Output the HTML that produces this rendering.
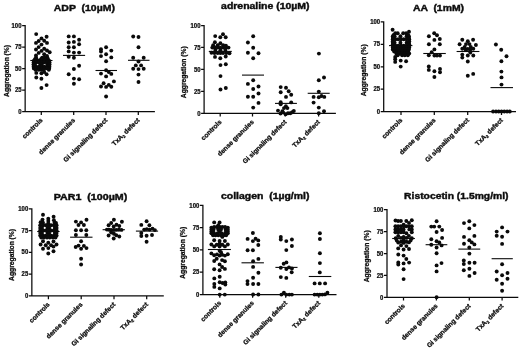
<!DOCTYPE html>
<html><head><meta charset="utf-8"><title>Aggregation</title>
<style>
html,body{margin:0;padding:0;background:#fff;}
body{width:520px;height:349px;overflow:hidden;}
svg{display:block;will-change:transform;filter:grayscale(1);}
text{font-family:"Liberation Sans",sans-serif;font-weight:bold;fill:#0d0d0d;stroke:#0d0d0d;stroke-width:0.18px;}
.t{font-size:9.3px;stroke-width:0.42px;}
.yl{font-size:7.4px;stroke-width:0.28px;}
.tk{font-size:6.4px;stroke-width:0.25px;}
.xl{font-size:6.6px;stroke-width:0.28px;}
.ax{stroke:#0a0a0a;stroke-width:1.25;fill:none;}
.m{stroke:#0a0a0a;stroke-width:1.1;}
circle{fill:#0a0a0a;}
</style></head><body>
<svg width="520" height="349" viewBox="0 0 520 349">
<rect width="520" height="349" fill="#fff"/>
<g id="p1">
<text class="t" x="53.8" y="11.0" textLength="61.1" lengthAdjust="spacingAndGlyphs" xml:space="preserve">ADP  (10µM)</text>
<path class="ax" d="M25.15 25.10V111.7H154.9M22.15 111.70H25.15M22.15 90.20H25.15M22.15 68.70H25.15M22.15 47.20H25.15M22.15 25.70H25.15M41.3 111.7V114.9M73.7 111.7V114.9M106 111.7V114.9M138.3 111.7V114.9"/>
<text class="tk" transform="translate(21.5 113.8) scale(0.93 1)" text-anchor="end">0</text>
<text class="tk" transform="translate(21.5 92.3) scale(0.93 1)" text-anchor="end">25</text>
<text class="tk" transform="translate(21.5 70.8) scale(0.93 1)" text-anchor="end">50</text>
<text class="tk" transform="translate(21.5 49.3) scale(0.93 1)" text-anchor="end">75</text>
<text class="tk" transform="translate(21.5 27.8) scale(0.93 1)" text-anchor="end">100</text>
<text class="yl" transform="translate(8.8 70.9) rotate(-90)" text-anchor="middle" textLength="52" lengthAdjust="spacingAndGlyphs">Aggregation (%)</text>
<text class="xl" transform="translate(43.1 120.7) rotate(-45)" text-anchor="end">controls</text>
<text class="xl" transform="translate(75.5 120.7) rotate(-45)" text-anchor="end">dense granules</text>
<text class="xl" transform="translate(107.8 120.7) rotate(-45)" text-anchor="end">Gi signaling defect</text>
<text class="xl" transform="translate(140.1 120.7) rotate(-45)" text-anchor="end">TxA<tspan dy="1.3" font-size="4.2">2</tspan><tspan dy="-1.3"> defect</tspan></text>
<line class="m" x1="30.3" x2="52.5" y1="60.5" y2="60.5"/>
<line class="m" x1="63" x2="85.1" y1="55.4" y2="55.4"/>
<line class="m" x1="95.5" x2="117" y1="70.5" y2="70.5"/>
<line class="m" x1="128" x2="149.5" y1="60.3" y2="60.3"/>
<circle cx="36.2" cy="34.1" r="1.95"/><circle cx="46.6" cy="36.8" r="1.95"/><circle cx="41.5" cy="38.4" r="1.95"/><circle cx="38.7" cy="41.0" r="1.95"/><circle cx="44.2" cy="40.8" r="1.95"/><circle cx="36.0" cy="42.9" r="1.95"/><circle cx="47.0" cy="42.9" r="1.95"/><circle cx="41.5" cy="44.6" r="1.95"/><circle cx="38.7" cy="47.1" r="1.95"/><circle cx="36.0" cy="49.5" r="1.95"/><circle cx="44.2" cy="48.8" r="1.95"/><circle cx="47.0" cy="50.5" r="1.95"/><circle cx="49.7" cy="52.3" r="1.95"/><circle cx="41.5" cy="50.9" r="1.95"/><circle cx="38.7" cy="52.9" r="1.95"/><circle cx="44.2" cy="54.3" r="1.95"/><circle cx="36.0" cy="55.4" r="1.95"/><circle cx="47.0" cy="56.0" r="1.95"/><circle cx="36.04" cy="57.6" r="1.95"/><circle cx="42.18" cy="57.6" r="1.95"/><circle cx="44.5" cy="57.6" r="1.95"/><circle cx="47.23" cy="57.6" r="1.95"/><circle cx="34.95" cy="59.2" r="1.95"/><circle cx="36.59" cy="59.2" r="1.95"/><circle cx="40.95" cy="59.2" r="1.95"/><circle cx="42.32" cy="59.2" r="1.95"/><circle cx="46.55" cy="59.2" r="1.95"/><circle cx="48.05" cy="59.2" r="1.95"/><circle cx="33.86" cy="60.7" r="1.95"/><circle cx="36.04" cy="60.7" r="1.95"/><circle cx="38.77" cy="60.7" r="1.95"/><circle cx="41.5" cy="60.7" r="1.95"/><circle cx="44.23" cy="60.7" r="1.95"/><circle cx="46.96" cy="60.7" r="1.95"/><circle cx="49.14" cy="60.7" r="1.95"/><circle cx="33.58" cy="62.4" r="1.95"/><circle cx="36.04" cy="62.4" r="1.95"/><circle cx="38.77" cy="62.4" r="1.95"/><circle cx="41.5" cy="62.4" r="1.95"/><circle cx="44.23" cy="62.4" r="1.95"/><circle cx="46.96" cy="62.4" r="1.95"/><circle cx="49.55" cy="62.4" r="1.95"/><circle cx="33.45" cy="64.6" r="1.95"/><circle cx="34.95" cy="64.6" r="1.95"/><circle cx="40.41" cy="64.6" r="1.95"/><circle cx="41.77" cy="64.6" r="1.95"/><circle cx="47.37" cy="64.6" r="1.95"/><circle cx="49.55" cy="64.6" r="1.95"/><circle cx="33.58" cy="66.7" r="1.95"/><circle cx="36.04" cy="66.7" r="1.95"/><circle cx="38.77" cy="66.7" r="1.95"/><circle cx="41.5" cy="66.7" r="1.95"/><circle cx="44.23" cy="66.7" r="1.95"/><circle cx="46.96" cy="66.7" r="1.95"/><circle cx="49.42" cy="66.7" r="1.95"/><circle cx="33.86" cy="68.4" r="1.95"/><circle cx="36.04" cy="68.4" r="1.95"/><circle cx="38.77" cy="68.4" r="1.95"/><circle cx="41.5" cy="68.4" r="1.95"/><circle cx="44.23" cy="68.4" r="1.95"/><circle cx="46.96" cy="68.4" r="1.95"/><circle cx="49.14" cy="68.4" r="1.95"/><circle cx="35.49" cy="69.8" r="1.95"/><circle cx="38.77" cy="69.8" r="1.95"/><circle cx="41.5" cy="69.8" r="1.95"/><circle cx="43.68" cy="69.8" r="1.95"/><circle cx="48.87" cy="69.8" r="1.95"/><circle cx="36.3" cy="72.9" r="1.95"/><circle cx="41.4" cy="73.2" r="1.95"/><circle cx="44.2" cy="72.0" r="1.95"/><circle cx="46.6" cy="74.3" r="1.95"/><circle cx="36.3" cy="77.5" r="1.95"/><circle cx="41.4" cy="78.7" r="1.95"/><circle cx="46.6" cy="85.1" r="1.95"/><circle cx="41.4" cy="88.0" r="1.95"/><circle cx="68.7" cy="36.4" r="1.95"/><circle cx="73.9" cy="36.4" r="1.95"/><circle cx="79.1" cy="39.7" r="1.95"/><circle cx="68.7" cy="42.5" r="1.95"/><circle cx="73.9" cy="41.9" r="1.95"/><circle cx="79.1" cy="44.3" r="1.95"/><circle cx="68.7" cy="47.3" r="1.95"/><circle cx="73.9" cy="47.3" r="1.95"/><circle cx="68.7" cy="51.4" r="1.95"/><circle cx="73.9" cy="52.6" r="1.95"/><circle cx="79.1" cy="52.6" r="1.95"/><circle cx="68.7" cy="56.8" r="1.95"/><circle cx="73.9" cy="57.8" r="1.95"/><circle cx="79.1" cy="65.8" r="1.95"/><circle cx="73.9" cy="69.0" r="1.95"/><circle cx="68.7" cy="74.3" r="1.95"/><circle cx="73.9" cy="78.6" r="1.95"/><circle cx="79.1" cy="79.3" r="1.95"/><circle cx="73.9" cy="83.7" r="1.95"/><circle cx="106.1" cy="47.2" r="1.95"/><circle cx="101" cy="49.2" r="1.95"/><circle cx="101" cy="51.5" r="1.95"/><circle cx="111.3" cy="50.6" r="1.95"/><circle cx="106.1" cy="54.2" r="1.95"/><circle cx="101" cy="56.1" r="1.95"/><circle cx="111.3" cy="57.4" r="1.95"/><circle cx="106.1" cy="61.3" r="1.95"/><circle cx="106.1" cy="70.2" r="1.95"/><circle cx="108.8" cy="72.1" r="1.95"/><circle cx="111.3" cy="73.9" r="1.95"/><circle cx="101" cy="73.6" r="1.95"/><circle cx="106.1" cy="76.4" r="1.95"/><circle cx="113.9" cy="81.4" r="1.95"/><circle cx="103.6" cy="83.3" r="1.95"/><circle cx="108.8" cy="84.9" r="1.95"/><circle cx="101" cy="86.5" r="1.95"/><circle cx="106.1" cy="86.9" r="1.95"/><circle cx="111.3" cy="86.8" r="1.95"/><circle cx="106.1" cy="96.5" r="1.95"/><circle cx="133.2" cy="36.5" r="1.95"/><circle cx="138.5" cy="37" r="1.95"/><circle cx="138.5" cy="47.3" r="1.95"/><circle cx="133.2" cy="57.8" r="1.95"/><circle cx="143.7" cy="57.8" r="1.95"/><circle cx="138.5" cy="61.5" r="1.95"/><circle cx="135.8" cy="65.4" r="1.95"/><circle cx="141.1" cy="65.4" r="1.95"/><circle cx="133.2" cy="68.8" r="1.95"/><circle cx="138.5" cy="69.1" r="1.95"/><circle cx="143.7" cy="68.8" r="1.95"/><circle cx="138.5" cy="74.6" r="1.95"/><circle cx="138.5" cy="82.0" r="1.95"/>
</g>
<g id="p2">
<text class="t" x="221.1" y="9.4" textLength="88.4" lengthAdjust="spacingAndGlyphs" xml:space="preserve">adrenaline (10µM)</text>
<path class="ax" d="M204.1 24.90V113.4H335.9M201.10 113.40H204.1M201.10 91.43H204.1M201.10 69.45H204.1M201.10 47.48H204.1M201.10 25.50H204.1M220.2 113.4V116.60000000000001M252.5 113.4V116.60000000000001M285.2 113.4V116.60000000000001M318.6 113.4V116.60000000000001"/>
<text class="tk" transform="translate(200.5 115.5) scale(0.93 1)" text-anchor="end">0</text>
<text class="tk" transform="translate(200.5 93.5) scale(0.93 1)" text-anchor="end">25</text>
<text class="tk" transform="translate(200.5 71.5) scale(0.93 1)" text-anchor="end">50</text>
<text class="tk" transform="translate(200.5 49.6) scale(0.93 1)" text-anchor="end">75</text>
<text class="tk" transform="translate(200.5 27.6) scale(0.93 1)" text-anchor="end">100</text>
<text class="yl" transform="translate(186.2 72.2) rotate(-90)" text-anchor="middle" textLength="52" lengthAdjust="spacingAndGlyphs">Aggregation (%)</text>
<text class="xl" transform="translate(222.0 122.4) rotate(-45)" text-anchor="end">controls</text>
<text class="xl" transform="translate(254.3 122.4) rotate(-45)" text-anchor="end">dense granules</text>
<text class="xl" transform="translate(287.0 122.4) rotate(-45)" text-anchor="end">Gi signaling defect</text>
<text class="xl" transform="translate(320.4 122.4) rotate(-45)" text-anchor="end">TxA<tspan dy="1.3" font-size="4.2">2</tspan><tspan dy="-1.3"> defect</tspan></text>
<line class="m" x1="208.8" x2="231.8" y1="51.4" y2="51.4"/>
<line class="m" x1="242" x2="264" y1="75.1" y2="75.1"/>
<line class="m" x1="275" x2="296.9" y1="103.4" y2="103.4"/>
<line class="m" x1="307.7" x2="329.7" y1="93.3" y2="93.3"/>
<circle cx="223" cy="34.3" r="1.95"/><circle cx="215.2" cy="36.1" r="1.95"/><circle cx="220.3" cy="37.3" r="1.95"/><circle cx="225.7" cy="37.3" r="1.95"/><circle cx="214.9" cy="42.3" r="1.95"/><circle cx="220.4" cy="43.2" r="1.95"/><circle cx="213.2" cy="45.2" r="1.95"/><circle cx="217.7" cy="45.2" r="1.95"/><circle cx="223.2" cy="45.2" r="1.95"/><circle cx="225.9" cy="45.6" r="1.95"/><circle cx="212.3" cy="47.6" r="1.95"/><circle cx="215" cy="47.6" r="1.95"/><circle cx="217.7" cy="47.6" r="1.95"/><circle cx="220.4" cy="47.6" r="1.95"/><circle cx="223.1" cy="47.6" r="1.95"/><circle cx="225.8" cy="47.6" r="1.95"/><circle cx="228.5" cy="47.6" r="1.95"/><circle cx="215.3" cy="50.0" r="1.95"/><circle cx="220.4" cy="50.2" r="1.95"/><circle cx="225.4" cy="50.0" r="1.95"/><circle cx="211.5" cy="52.7" r="1.95"/><circle cx="214.5" cy="53.1" r="1.95"/><circle cx="217.7" cy="53.1" r="1.95"/><circle cx="220.4" cy="53.1" r="1.95"/><circle cx="223.1" cy="53.1" r="1.95"/><circle cx="226.3" cy="53.1" r="1.95"/><circle cx="229.5" cy="53.3" r="1.95"/><circle cx="215.0" cy="56.9" r="1.95"/><circle cx="220.3" cy="58.3" r="1.95"/><circle cx="225.7" cy="56.5" r="1.95"/><circle cx="220.5" cy="65.1" r="1.95"/><circle cx="225.8" cy="64.3" r="1.95"/><circle cx="220.5" cy="76.1" r="1.95"/><circle cx="220.5" cy="89.5" r="1.95"/><circle cx="225.8" cy="88" r="1.95"/><circle cx="253.2" cy="36.3" r="1.95"/><circle cx="247.9" cy="42.5" r="1.95"/><circle cx="253.2" cy="47.8" r="1.95"/><circle cx="247.9" cy="52.8" r="1.95"/><circle cx="258.5" cy="53.3" r="1.95"/><circle cx="253.2" cy="58.3" r="1.95"/><circle cx="253.2" cy="80.3" r="1.95"/><circle cx="247.9" cy="83.9" r="1.95"/><circle cx="258.5" cy="86.5" r="1.95"/><circle cx="253.2" cy="89" r="1.95"/><circle cx="258.5" cy="93.5" r="1.95"/><circle cx="247.9" cy="96.8" r="1.95"/><circle cx="253.2" cy="96.8" r="1.95"/><circle cx="258.5" cy="102.9" r="1.95"/><circle cx="253.2" cy="107.6" r="1.95"/><circle cx="280.7" cy="87.1" r="1.95"/><circle cx="286" cy="87.8" r="1.95"/><circle cx="288.7" cy="91.2" r="1.95"/><circle cx="280.7" cy="92.2" r="1.95"/><circle cx="291.2" cy="94.7" r="1.95"/><circle cx="286" cy="96.9" r="1.95"/><circle cx="280.7" cy="102.2" r="1.95"/><circle cx="280.7" cy="104.3" r="1.95"/><circle cx="291.2" cy="102.4" r="1.95"/><circle cx="285.9" cy="106.2" r="1.95"/><circle cx="284" cy="108.1" r="1.95"/><circle cx="287.4" cy="108.1" r="1.95"/><circle cx="278" cy="110.6" r="1.95"/><circle cx="293.8" cy="110.9" r="1.95"/><circle cx="282.4" cy="111.2" r="1.95"/><circle cx="280.5" cy="113.6" r="1.95"/><circle cx="285.6" cy="114.3" r="1.95"/><circle cx="290.3" cy="113.3" r="1.95"/><circle cx="283" cy="112.4" r="1.95"/><circle cx="292.2" cy="112.2" r="1.95"/><circle cx="288" cy="113.3" r="1.95"/><circle cx="318.9" cy="53.6" r="1.95"/><circle cx="324" cy="77.5" r="1.95"/><circle cx="318.8" cy="80.3" r="1.95"/><circle cx="318.8" cy="91.6" r="1.95"/><circle cx="313.6" cy="96.9" r="1.95"/><circle cx="318.8" cy="97.3" r="1.95"/><circle cx="321.5" cy="96" r="1.95"/><circle cx="324.3" cy="96.9" r="1.95"/><circle cx="313.6" cy="102.6" r="1.95"/><circle cx="318.8" cy="107.6" r="1.95"/><circle cx="324" cy="111.2" r="1.95"/><circle cx="318.8" cy="113.3" r="1.95"/>
</g>
<g id="p3">
<text class="t" x="413.0" y="10.8" textLength="51" lengthAdjust="spacingAndGlyphs" xml:space="preserve">AA  (1mM)</text>
<path class="ax" d="M383.7 21.25V111.7H516M380.70 111.70H383.7M380.70 89.24H383.7M380.70 66.78H383.7M380.70 44.31H383.7M380.70 21.85H383.7M401.0 111.7V114.9M434.3 111.7V114.9M467.7 111.7V114.9M501.5 111.7V114.9"/>
<text class="tk" transform="translate(380.1 113.8) scale(0.93 1)" text-anchor="end">0</text>
<text class="tk" transform="translate(380.1 91.3) scale(0.93 1)" text-anchor="end">25</text>
<text class="tk" transform="translate(380.1 68.9) scale(0.93 1)" text-anchor="end">50</text>
<text class="tk" transform="translate(380.1 46.4) scale(0.93 1)" text-anchor="end">75</text>
<text class="tk" transform="translate(380.1 24.0) scale(0.93 1)" text-anchor="end">100</text>
<text class="yl" transform="translate(365.6 70.3) rotate(-90)" text-anchor="middle" textLength="52" lengthAdjust="spacingAndGlyphs">Aggregation (%)</text>
<text class="xl" transform="translate(402.8 120.7) rotate(-45)" text-anchor="end">controls</text>
<text class="xl" transform="translate(436.1 120.7) rotate(-45)" text-anchor="end">dense granules</text>
<text class="xl" transform="translate(469.5 120.7) rotate(-45)" text-anchor="end">Gi signaling defect</text>
<text class="xl" transform="translate(503.3 120.7) rotate(-45)" text-anchor="end">TxA<tspan dy="1.3" font-size="4.2">2</tspan><tspan dy="-1.3"> defect</tspan></text>
<line class="m" x1="389" x2="412.4" y1="45.6" y2="45.6"/>
<line class="m" x1="423.3" x2="445.8" y1="53.5" y2="53.5"/>
<line class="m" x1="456.6" x2="479.4" y1="51.5" y2="51.5"/>
<line class="m" x1="490.5" x2="513" y1="87.6" y2="87.6"/>
<circle cx="392.6" cy="29.8" r="1.95"/><circle cx="409" cy="31.8" r="1.95"/><circle cx="395.27" cy="33.3" r="1.95"/><circle cx="397.72" cy="33.3" r="1.95"/><circle cx="403.18" cy="33.3" r="1.95"/><circle cx="406.19" cy="33.3" r="1.95"/><circle cx="393.63" cy="35.0" r="1.95"/><circle cx="408.1" cy="35.0" r="1.95"/><circle cx="392.81" cy="36.3" r="1.95"/><circle cx="394.64" cy="36.3" r="1.95"/><circle cx="400.45" cy="36.3" r="1.95"/><circle cx="406.6" cy="36.3" r="1.95"/><circle cx="408.92" cy="36.3" r="1.95"/><circle cx="392.81" cy="38.0" r="1.95"/><circle cx="408.92" cy="38.0" r="1.95"/><circle cx="392.81" cy="39.3" r="1.95"/><circle cx="395.54" cy="39.3" r="1.95"/><circle cx="398.27" cy="39.3" r="1.95"/><circle cx="401.0" cy="39.3" r="1.95"/><circle cx="403.73" cy="39.3" r="1.95"/><circle cx="406.46" cy="39.3" r="1.95"/><circle cx="409.19" cy="39.3" r="1.95"/><circle cx="392.81" cy="41.2" r="1.95"/><circle cx="409.19" cy="41.2" r="1.95"/><circle cx="392.81" cy="42.7" r="1.95"/><circle cx="394.64" cy="42.7" r="1.95"/><circle cx="400.45" cy="42.7" r="1.95"/><circle cx="406.6" cy="42.7" r="1.95"/><circle cx="408.92" cy="42.7" r="1.95"/><circle cx="392.81" cy="44.2" r="1.95"/><circle cx="409.19" cy="44.2" r="1.95"/><circle cx="392.81" cy="45.6" r="1.95"/><circle cx="395.54" cy="45.6" r="1.95"/><circle cx="398.27" cy="45.6" r="1.95"/><circle cx="401.0" cy="45.6" r="1.95"/><circle cx="403.73" cy="45.6" r="1.95"/><circle cx="406.46" cy="45.6" r="1.95"/><circle cx="409.19" cy="45.6" r="1.95"/><circle cx="392.81" cy="47.5" r="1.95"/><circle cx="395.54" cy="47.5" r="1.95"/><circle cx="398.27" cy="47.5" r="1.95"/><circle cx="401.0" cy="47.5" r="1.95"/><circle cx="403.73" cy="47.5" r="1.95"/><circle cx="406.46" cy="47.5" r="1.95"/><circle cx="409.19" cy="47.5" r="1.95"/><circle cx="392.81" cy="49.5" r="1.95"/><circle cx="395.54" cy="49.5" r="1.95"/><circle cx="398.27" cy="49.5" r="1.95"/><circle cx="401.0" cy="49.5" r="1.95"/><circle cx="403.73" cy="49.5" r="1.95"/><circle cx="406.46" cy="49.5" r="1.95"/><circle cx="408.92" cy="49.5" r="1.95"/><circle cx="394.18" cy="51.5" r="1.95"/><circle cx="396.9" cy="51.5" r="1.95"/><circle cx="399.63" cy="51.5" r="1.95"/><circle cx="402.37" cy="51.5" r="1.95"/><circle cx="405.1" cy="51.5" r="1.95"/><circle cx="408.1" cy="51.5" r="1.95"/><circle cx="396.36" cy="53.5" r="1.95"/><circle cx="399.09" cy="53.5" r="1.95"/><circle cx="401.82" cy="53.5" r="1.95"/><circle cx="404.55" cy="53.5" r="1.95"/><circle cx="407.28" cy="53.5" r="1.95"/><circle cx="409.19" cy="53.5" r="1.95"/><circle cx="397.72" cy="55.3" r="1.95"/><circle cx="402.09" cy="55.3" r="1.95"/><circle cx="404.82" cy="55.3" r="1.95"/><circle cx="407.82" cy="55.3" r="1.95"/><circle cx="395.2" cy="56.9" r="1.95"/><circle cx="395.2" cy="59.3" r="1.95"/><circle cx="395.2" cy="61.9" r="1.95"/><circle cx="400.7" cy="60.6" r="1.95"/><circle cx="406.1" cy="61.3" r="1.95"/><circle cx="400.7" cy="66.6" r="1.95"/><circle cx="434.2" cy="33.3" r="1.95"/><circle cx="437" cy="35.3" r="1.95"/><circle cx="428.9" cy="36.3" r="1.95"/><circle cx="439.8" cy="39" r="1.95"/><circle cx="434.4" cy="39.9" r="1.95"/><circle cx="428.9" cy="44.3" r="1.95"/><circle cx="439.8" cy="44.3" r="1.95"/><circle cx="434.4" cy="49.4" r="1.95"/><circle cx="431.7" cy="52.3" r="1.95"/><circle cx="428.8" cy="55.3" r="1.95"/><circle cx="434.4" cy="55.6" r="1.95"/><circle cx="437" cy="55.6" r="1.95"/><circle cx="440" cy="55.6" r="1.95"/><circle cx="428.8" cy="66.5" r="1.95"/><circle cx="428.8" cy="69.9" r="1.95"/><circle cx="434.4" cy="71.2" r="1.95"/><circle cx="440" cy="68.9" r="1.95"/><circle cx="440" cy="72.3" r="1.95"/><circle cx="434.4" cy="77" r="1.95"/><circle cx="462.3" cy="39.8" r="1.95"/><circle cx="473.1" cy="39.8" r="1.95"/><circle cx="467.8" cy="41.3" r="1.95"/><circle cx="459.6" cy="44.3" r="1.95"/><circle cx="475.9" cy="45" r="1.95"/><circle cx="466" cy="44.1" r="1.95"/><circle cx="469.5" cy="44.1" r="1.95"/><circle cx="464.7" cy="46.9" r="1.95"/><circle cx="470.8" cy="46.9" r="1.95"/><circle cx="462.3" cy="48.8" r="1.95"/><circle cx="465.6" cy="49.5" r="1.95"/><circle cx="467.8" cy="49" r="1.95"/><circle cx="470.3" cy="49.5" r="1.95"/><circle cx="473.3" cy="48.8" r="1.95"/><circle cx="470.3" cy="52.5" r="1.95"/><circle cx="462.3" cy="54.6" r="1.95"/><circle cx="462.3" cy="57.6" r="1.95"/><circle cx="467.8" cy="55.5" r="1.95"/><circle cx="473.3" cy="55.5" r="1.95"/><circle cx="467.8" cy="61.5" r="1.95"/><circle cx="467.8" cy="75.8" r="1.95"/><circle cx="473.2" cy="73.9" r="1.95"/><circle cx="495.9" cy="44.5" r="1.95"/><circle cx="501.2" cy="49.8" r="1.95"/><circle cx="506.5" cy="56.2" r="1.95"/><circle cx="501.4" cy="61.2" r="1.95"/><circle cx="501.4" cy="71.6" r="1.95"/><circle cx="501.5" cy="77.4" r="1.95"/><circle cx="501.5" cy="84.6" r="1.95"/><circle cx="493.1" cy="111.5" r="1.95"/><circle cx="496" cy="111.5" r="1.95"/><circle cx="498.7" cy="111.5" r="1.95"/><circle cx="501.5" cy="111.5" r="1.95"/><circle cx="504.3" cy="111.5" r="1.95"/><circle cx="507.1" cy="111.5" r="1.95"/><circle cx="509.8" cy="111.5" r="1.95"/>
</g>
<g id="p4">
<text class="t" x="53.7" y="200.2" textLength="73.6" lengthAdjust="spacingAndGlyphs" xml:space="preserve">PAR1  (100µM)</text>
<path class="ax" d="M31.85 208.15V295.95H163.8M28.85 295.95H31.85M28.85 274.15H31.85M28.85 252.35H31.85M28.85 230.55H31.85M28.85 208.75H31.85M48.4 295.95V299.15M81.2 295.95V299.15M114 295.95V299.15M146.7 295.95V299.15"/>
<text class="tk" transform="translate(28.2 298.1) scale(0.93 1)" text-anchor="end">0</text>
<text class="tk" transform="translate(28.2 276.2) scale(0.93 1)" text-anchor="end">25</text>
<text class="tk" transform="translate(28.2 254.4) scale(0.93 1)" text-anchor="end">50</text>
<text class="tk" transform="translate(28.2 232.6) scale(0.93 1)" text-anchor="end">75</text>
<text class="tk" transform="translate(28.2 210.8) scale(0.93 1)" text-anchor="end">100</text>
<text class="yl" transform="translate(14.0 254.9) rotate(-90)" text-anchor="middle" textLength="52" lengthAdjust="spacingAndGlyphs">Aggregation (%)</text>
<text class="xl" transform="translate(50.2 304.9) rotate(-45)" text-anchor="end">controls</text>
<text class="xl" transform="translate(83.0 304.9) rotate(-45)" text-anchor="end">dense granules</text>
<text class="xl" transform="translate(115.8 304.9) rotate(-45)" text-anchor="end">Gi signaling defect</text>
<text class="xl" transform="translate(148.5 304.9) rotate(-45)" text-anchor="end">TxA<tspan dy="1.3" font-size="4.2">2</tspan><tspan dy="-1.3"> defect</tspan></text>
<line class="m" x1="37.2" x2="59.6" y1="231.5" y2="231.5"/>
<line class="m" x1="70.1" x2="92.5" y1="237.2" y2="237.2"/>
<line class="m" x1="102.6" x2="124.9" y1="229.7" y2="229.7"/>
<line class="m" x1="135.9" x2="158.1" y1="231.1" y2="231.1"/>
<circle cx="43" cy="214.7" r="1.95"/><circle cx="53.6" cy="216.8" r="1.95"/><circle cx="48.3" cy="218.7" r="1.95"/><circle cx="42.5" cy="219.6" r="1.95"/><circle cx="53.9" cy="220.2" r="1.95"/><circle cx="48.3" cy="221" r="1.95"/><circle cx="40.6" cy="222.2" r="1.95"/><circle cx="56" cy="223" r="1.95"/><circle cx="43" cy="222.8" r="1.95"/><circle cx="54.6" cy="222.6" r="1.95"/><circle cx="48.3" cy="223.2" r="1.95"/><circle cx="40.21" cy="225.3" r="1.95"/><circle cx="42.94" cy="225.3" r="1.95"/><circle cx="45.67" cy="225.3" r="1.95"/><circle cx="48.4" cy="225.3" r="1.95"/><circle cx="51.13" cy="225.3" r="1.95"/><circle cx="53.86" cy="225.3" r="1.95"/><circle cx="56.59" cy="225.3" r="1.95"/><circle cx="40.21" cy="227.9" r="1.95"/><circle cx="41.98" cy="227.9" r="1.95"/><circle cx="47.58" cy="227.9" r="1.95"/><circle cx="49.22" cy="227.9" r="1.95"/><circle cx="54.82" cy="227.9" r="1.95"/><circle cx="56.59" cy="227.9" r="1.95"/><circle cx="40.21" cy="230.5" r="1.95"/><circle cx="42.94" cy="230.5" r="1.95"/><circle cx="45.67" cy="230.5" r="1.95"/><circle cx="48.4" cy="230.5" r="1.95"/><circle cx="51.13" cy="230.5" r="1.95"/><circle cx="53.86" cy="230.5" r="1.95"/><circle cx="56.59" cy="230.5" r="1.95"/><circle cx="40.21" cy="233.1" r="1.95"/><circle cx="41.98" cy="233.1" r="1.95"/><circle cx="47.58" cy="233.1" r="1.95"/><circle cx="49.22" cy="233.1" r="1.95"/><circle cx="54.82" cy="233.1" r="1.95"/><circle cx="56.59" cy="233.1" r="1.95"/><circle cx="40.21" cy="235.6" r="1.95"/><circle cx="42.94" cy="235.6" r="1.95"/><circle cx="45.67" cy="235.6" r="1.95"/><circle cx="48.4" cy="235.6" r="1.95"/><circle cx="51.13" cy="235.6" r="1.95"/><circle cx="53.86" cy="235.6" r="1.95"/><circle cx="56.59" cy="235.6" r="1.95"/><circle cx="41.3" cy="237.6" r="1.95"/><circle cx="44.03" cy="237.6" r="1.95"/><circle cx="47.03" cy="237.6" r="1.95"/><circle cx="49.77" cy="237.6" r="1.95"/><circle cx="52.77" cy="237.6" r="1.95"/><circle cx="55.5" cy="237.6" r="1.95"/><circle cx="43" cy="241.3" r="1.95"/><circle cx="48.3" cy="242.7" r="1.95"/><circle cx="53.5" cy="241.5" r="1.95"/><circle cx="40.6" cy="244.5" r="1.95"/><circle cx="56.5" cy="244.5" r="1.95"/><circle cx="45.7" cy="245.3" r="1.95"/><circle cx="51.1" cy="245.3" r="1.95"/><circle cx="43" cy="248.7" r="1.95"/><circle cx="48.3" cy="248.1" r="1.95"/><circle cx="53.5" cy="246.6" r="1.95"/><circle cx="53.5" cy="251.3" r="1.95"/><circle cx="48.3" cy="253.5" r="1.95"/><circle cx="86.5" cy="219.8" r="1.95"/><circle cx="75.9" cy="221.6" r="1.95"/><circle cx="81.1" cy="222.4" r="1.95"/><circle cx="78.5" cy="225" r="1.95"/><circle cx="83.9" cy="225" r="1.95"/><circle cx="75.9" cy="230.2" r="1.95"/><circle cx="81.1" cy="230.2" r="1.95"/><circle cx="86.3" cy="230.2" r="1.95"/><circle cx="75.9" cy="235" r="1.95"/><circle cx="86.3" cy="235" r="1.95"/><circle cx="81.1" cy="241.2" r="1.95"/><circle cx="75.7" cy="247" r="1.95"/><circle cx="78.5" cy="245.6" r="1.95"/><circle cx="81.1" cy="248.7" r="1.95"/><circle cx="83.9" cy="245.9" r="1.95"/><circle cx="86.5" cy="248.1" r="1.95"/><circle cx="81.1" cy="258.8" r="1.95"/><circle cx="81.1" cy="264.5" r="1.95"/><circle cx="113.9" cy="219.8" r="1.95"/><circle cx="121.9" cy="221.7" r="1.95"/><circle cx="111.2" cy="223" r="1.95"/><circle cx="108.6" cy="225.2" r="1.95"/><circle cx="116.5" cy="224.7" r="1.95"/><circle cx="119.3" cy="226" r="1.95"/><circle cx="113.7" cy="226.5" r="1.95"/><circle cx="106.9" cy="229.6" r="1.95"/><circle cx="109.0" cy="229.8" r="1.95"/><circle cx="113.8" cy="230.0" r="1.95"/><circle cx="118.9" cy="229.8" r="1.95"/><circle cx="111.2" cy="229.9" r="1.95"/><circle cx="116.3" cy="229.9" r="1.95"/><circle cx="121.5" cy="229.9" r="1.95"/><circle cx="111.2" cy="232.5" r="1.95"/><circle cx="108.6" cy="235.5" r="1.95"/><circle cx="116.3" cy="235.3" r="1.95"/><circle cx="119.3" cy="236.5" r="1.95"/><circle cx="113.7" cy="238.5" r="1.95"/><circle cx="113.9" cy="233.8" r="1.95"/><circle cx="146.6" cy="221.3" r="1.95"/><circle cx="141.3" cy="224.9" r="1.95"/><circle cx="149.4" cy="225.2" r="1.95"/><circle cx="144.2" cy="229.6" r="1.95"/><circle cx="146.8" cy="229.1" r="1.95"/><circle cx="149.6" cy="229.6" r="1.95"/><circle cx="152.5" cy="228.6" r="1.95"/><circle cx="154.9" cy="230.1" r="1.95"/><circle cx="141.3" cy="233" r="1.95"/><circle cx="141.3" cy="236" r="1.95"/><circle cx="146.6" cy="235.7" r="1.95"/><circle cx="152" cy="235" r="1.95"/><circle cx="146.6" cy="241.8" r="1.95"/>
</g>
<g id="p5">
<text class="t" x="221.0" y="199.4" textLength="88.4" lengthAdjust="spacingAndGlyphs" xml:space="preserve">collagen  (1µg/ml)</text>
<path class="ax" d="M202.9 204.80V294.5H336.5M199.90 294.50H202.9M199.90 272.23H202.9M199.90 249.95H202.9M199.90 227.68H202.9M199.90 205.40H202.9M219.8 294.5V297.7M252.6 294.5V297.7M285.7 294.5V297.7M318.8 294.5V297.7"/>
<text class="tk" transform="translate(199.3 296.6) scale(0.93 1)" text-anchor="end">0</text>
<text class="tk" transform="translate(199.3 274.3) scale(0.93 1)" text-anchor="end">25</text>
<text class="tk" transform="translate(199.3 252.0) scale(0.93 1)" text-anchor="end">50</text>
<text class="tk" transform="translate(199.3 229.8) scale(0.93 1)" text-anchor="end">75</text>
<text class="tk" transform="translate(199.3 207.5) scale(0.93 1)" text-anchor="end">100</text>
<text class="yl" transform="translate(184.5 252.8) rotate(-90)" text-anchor="middle" textLength="52" lengthAdjust="spacingAndGlyphs">Aggregation (%)</text>
<text class="xl" transform="translate(221.6 303.5) rotate(-45)" text-anchor="end">controls</text>
<text class="xl" transform="translate(254.4 303.5) rotate(-45)" text-anchor="end">dense granules</text>
<text class="xl" transform="translate(287.5 303.5) rotate(-45)" text-anchor="end">Gi signaling defect</text>
<text class="xl" transform="translate(320.6 303.5) rotate(-45)" text-anchor="end">TxA<tspan dy="1.3" font-size="4.2">2</tspan><tspan dy="-1.3"> defect</tspan></text>
<line class="m" x1="207.9" x2="230.9" y1="249.5" y2="249.5"/>
<line class="m" x1="241.5" x2="263.9" y1="262.8" y2="262.8"/>
<line class="m" x1="275.4" x2="297.5" y1="267.4" y2="267.4"/>
<line class="m" x1="308.8" x2="331.3" y1="276.5" y2="276.5"/>
<circle cx="214.2" cy="222.4" r="1.95"/><circle cx="219.6" cy="222.4" r="1.95"/><circle cx="218.3" cy="225.3" r="1.95"/><circle cx="214.14" cy="227.0" r="1.95"/><circle cx="216.87" cy="227.0" r="1.95"/><circle cx="219.6" cy="227.0" r="1.95"/><circle cx="222.33" cy="227.0" r="1.95"/><circle cx="225.06" cy="227.0" r="1.95"/><circle cx="211.41" cy="227.6" r="1.95"/><circle cx="227.79" cy="227.6" r="1.95"/><circle cx="211.41" cy="229.5" r="1.95"/><circle cx="213.59" cy="229.5" r="1.95"/><circle cx="218.23" cy="229.5" r="1.95"/><circle cx="220.97" cy="229.5" r="1.95"/><circle cx="225.61" cy="229.5" r="1.95"/><circle cx="227.79" cy="229.5" r="1.95"/><circle cx="211.41" cy="231.5" r="1.95"/><circle cx="213.05" cy="231.5" r="1.95"/><circle cx="219.6" cy="231.5" r="1.95"/><circle cx="226.15" cy="231.5" r="1.95"/><circle cx="227.79" cy="231.5" r="1.95"/><circle cx="211.41" cy="233.3" r="1.95"/><circle cx="214.14" cy="233.3" r="1.95"/><circle cx="217.69" cy="233.3" r="1.95"/><circle cx="221.51" cy="233.3" r="1.95"/><circle cx="225.06" cy="233.3" r="1.95"/><circle cx="227.79" cy="233.3" r="1.95"/><circle cx="213.05" cy="235.2" r="1.95"/><circle cx="215.5" cy="235.2" r="1.95"/><circle cx="218.23" cy="235.2" r="1.95"/><circle cx="220.97" cy="235.2" r="1.95"/><circle cx="223.69" cy="235.2" r="1.95"/><circle cx="226.15" cy="235.2" r="1.95"/><circle cx="222.33" cy="236.9" r="1.95"/><circle cx="214.2" cy="240.3" r="1.95"/><circle cx="219.6" cy="241" r="1.95"/><circle cx="224.9" cy="241" r="1.95"/><circle cx="211.4" cy="244.5" r="1.95"/><circle cx="227.8" cy="244.5" r="1.95"/><circle cx="219.6" cy="243.6" r="1.95"/><circle cx="216.7" cy="244.8" r="1.95"/><circle cx="222.4" cy="244.8" r="1.95"/><circle cx="214.2" cy="246.4" r="1.95"/><circle cx="219.6" cy="246.4" r="1.95"/><circle cx="224.9" cy="246.4" r="1.95"/><circle cx="219.6" cy="250.8" r="1.95"/><circle cx="221.0" cy="252.2" r="1.95"/><circle cx="211.4" cy="253.4" r="1.95"/><circle cx="214.2" cy="255.2" r="1.95"/><circle cx="217" cy="254.4" r="1.95"/><circle cx="219.6" cy="255.6" r="1.95"/><circle cx="222.1" cy="254.7" r="1.95"/><circle cx="224.9" cy="255.6" r="1.95"/><circle cx="227.8" cy="254.3" r="1.95"/><circle cx="216.7" cy="258.8" r="1.95"/><circle cx="214.2" cy="261" r="1.95"/><circle cx="222.1" cy="260.1" r="1.95"/><circle cx="224.9" cy="261.3" r="1.95"/><circle cx="219.6" cy="264.4" r="1.95"/><circle cx="222.1" cy="267" r="1.95"/><circle cx="224.9" cy="268.9" r="1.95"/><circle cx="214.2" cy="269.3" r="1.95"/><circle cx="219.6" cy="270.2" r="1.95"/><circle cx="219.7" cy="276.7" r="1.95"/><circle cx="214.3" cy="278.4" r="1.95"/><circle cx="219.7" cy="282.3" r="1.95"/><circle cx="222.6" cy="283" r="1.95"/><circle cx="225.3" cy="282.5" r="1.95"/><circle cx="225.3" cy="284.5" r="1.95"/><circle cx="214.3" cy="284" r="1.95"/><circle cx="214.3" cy="286.9" r="1.95"/><circle cx="219.7" cy="288.4" r="1.95"/><circle cx="219.7" cy="294.6" r="1.95"/><circle cx="224.8" cy="294.6" r="1.95"/><circle cx="252.9" cy="233" r="1.95"/><circle cx="247.6" cy="238.9" r="1.95"/><circle cx="255.6" cy="238.7" r="1.95"/><circle cx="252.9" cy="241.1" r="1.95"/><circle cx="258.3" cy="240.4" r="1.95"/><circle cx="258.3" cy="245" r="1.95"/><circle cx="247.6" cy="250.2" r="1.95"/><circle cx="252.9" cy="250.2" r="1.95"/><circle cx="258.4" cy="258.9" r="1.95"/><circle cx="253.1" cy="261.3" r="1.95"/><circle cx="253.1" cy="266.9" r="1.95"/><circle cx="258.4" cy="272.7" r="1.95"/><circle cx="253.1" cy="277.7" r="1.95"/><circle cx="247.5" cy="281.1" r="1.95"/><circle cx="247.5" cy="284" r="1.95"/><circle cx="253.1" cy="284" r="1.95"/><circle cx="258.4" cy="284" r="1.95"/><circle cx="253.1" cy="294.5" r="1.95"/><circle cx="258.4" cy="294.5" r="1.95"/><circle cx="280.8" cy="237" r="1.95"/><circle cx="280.8" cy="239.5" r="1.95"/><circle cx="286.3" cy="241.1" r="1.95"/><circle cx="291.9" cy="239.5" r="1.95"/><circle cx="291.9" cy="246" r="1.95"/><circle cx="286.3" cy="250.1" r="1.95"/><circle cx="283.7" cy="263.7" r="1.95"/><circle cx="286.4" cy="262.4" r="1.95"/><circle cx="280.8" cy="267.8" r="1.95"/><circle cx="286.3" cy="269" r="1.95"/><circle cx="289" cy="267.4" r="1.95"/><circle cx="291.9" cy="268.4" r="1.95"/><circle cx="291.7" cy="272.3" r="1.95"/><circle cx="280.8" cy="277.1" r="1.95"/><circle cx="286.3" cy="277.9" r="1.95"/><circle cx="281.4" cy="294.6" r="1.95"/><circle cx="283.9" cy="292.7" r="1.95"/><circle cx="286.3" cy="294.6" r="1.95"/><circle cx="289.3" cy="294.6" r="1.95"/><circle cx="291.9" cy="294.6" r="1.95"/><circle cx="319.9" cy="233.2" r="1.95"/><circle cx="319.9" cy="239" r="1.95"/><circle cx="319.9" cy="253.2" r="1.95"/><circle cx="319.9" cy="263.1" r="1.95"/><circle cx="319.8" cy="272.4" r="1.95"/><circle cx="314.6" cy="283.4" r="1.95"/><circle cx="319.8" cy="283.4" r="1.95"/><circle cx="325.1" cy="283.4" r="1.95"/><circle cx="314.6" cy="294.6" r="1.95"/><circle cx="317.3" cy="294.6" r="1.95"/><circle cx="319.8" cy="294.6" r="1.95"/><circle cx="322.3" cy="294.6" r="1.95"/><circle cx="324.9" cy="294.4" r="1.95"/><circle cx="327.4" cy="292.8" r="1.95"/>
</g>
<g id="p6">
<text class="t" x="404.1" y="199.4" textLength="104.4" lengthAdjust="spacingAndGlyphs" xml:space="preserve">Ristocetin (1.5mg/ml)</text>
<path class="ax" d="M387.0 209.10V297.4H518.3M384.00 297.40H387.0M384.00 275.47H387.0M384.00 253.55H387.0M384.00 231.62H387.0M384.00 209.70H387.0M403.5 297.4V300.59999999999997M436.4 297.4V300.59999999999997M469.3 297.4V300.59999999999997M502.1 297.4V300.59999999999997"/>
<text class="tk" transform="translate(383.4 299.5) scale(0.93 1)" text-anchor="end">0</text>
<text class="tk" transform="translate(383.4 277.6) scale(0.93 1)" text-anchor="end">25</text>
<text class="tk" transform="translate(383.4 255.6) scale(0.93 1)" text-anchor="end">50</text>
<text class="tk" transform="translate(383.4 233.7) scale(0.93 1)" text-anchor="end">75</text>
<text class="tk" transform="translate(383.4 211.8) scale(0.93 1)" text-anchor="end">100</text>
<text class="yl" transform="translate(368.9 256.3) rotate(-90)" text-anchor="middle" textLength="52" lengthAdjust="spacingAndGlyphs">Aggregation (%)</text>
<text class="xl" transform="translate(405.3 306.4) rotate(-45)" text-anchor="end">controls</text>
<text class="xl" transform="translate(438.2 306.4) rotate(-45)" text-anchor="end">dense granules</text>
<text class="xl" transform="translate(471.1 306.4) rotate(-45)" text-anchor="end">Gi signaling defect</text>
<text class="xl" transform="translate(503.9 306.4) rotate(-45)" text-anchor="end">TxA<tspan dy="1.3" font-size="4.2">2</tspan><tspan dy="-1.3"> defect</tspan></text>
<line class="m" x1="392.2" x2="414.9" y1="238.5" y2="238.5"/>
<line class="m" x1="425.6" x2="447.3" y1="244.7" y2="244.7"/>
<line class="m" x1="458.4" x2="480.2" y1="249.1" y2="249.1"/>
<line class="m" x1="491.6" x2="512.8" y1="258.7" y2="258.7"/>
<circle cx="395.5" cy="220.5" r="1.95"/><circle cx="398.1" cy="221" r="1.95"/><circle cx="400.9" cy="221" r="1.95"/><circle cx="406.3" cy="221" r="1.95"/><circle cx="411.8" cy="220.3" r="1.95"/><circle cx="409.0" cy="222.9" r="1.95"/><circle cx="403.6" cy="224.8" r="1.95"/><circle cx="395.41" cy="226.3" r="1.95"/><circle cx="398.14" cy="226.3" r="1.95"/><circle cx="400.87" cy="226.3" r="1.95"/><circle cx="403.6" cy="226.3" r="1.95"/><circle cx="406.33" cy="226.3" r="1.95"/><circle cx="409.06" cy="226.3" r="1.95"/><circle cx="411.79" cy="226.3" r="1.95"/><circle cx="395.41" cy="229.4" r="1.95"/><circle cx="398.14" cy="229.4" r="1.95"/><circle cx="400.87" cy="229.4" r="1.95"/><circle cx="403.6" cy="229.4" r="1.95"/><circle cx="409.33" cy="229.4" r="1.95"/><circle cx="411.79" cy="229.4" r="1.95"/><circle cx="395.41" cy="232.3" r="1.95"/><circle cx="398.14" cy="232.3" r="1.95"/><circle cx="400.87" cy="232.3" r="1.95"/><circle cx="403.6" cy="232.3" r="1.95"/><circle cx="411.79" cy="232.3" r="1.95"/><circle cx="406.4" cy="233.3" r="1.95"/><circle cx="398.2" cy="236" r="1.95"/><circle cx="408.9" cy="236" r="1.95"/><circle cx="403.6" cy="236.9" r="1.95"/><circle cx="395.7" cy="238.3" r="1.95"/><circle cx="401" cy="237.9" r="1.95"/><circle cx="406.4" cy="237.9" r="1.95"/><circle cx="411.8" cy="238.3" r="1.95"/><circle cx="403.6" cy="240.4" r="1.95"/><circle cx="396.8" cy="240.6" r="1.95"/><circle cx="410.6" cy="240.6" r="1.95"/><circle cx="398.2" cy="242.6" r="1.95"/><circle cx="401" cy="241.8" r="1.95"/><circle cx="403.6" cy="242.9" r="1.95"/><circle cx="406.4" cy="241.8" r="1.95"/><circle cx="408.9" cy="242.4" r="1.95"/><circle cx="401" cy="245.4" r="1.95"/><circle cx="406.4" cy="246.1" r="1.95"/><circle cx="398.2" cy="248.4" r="1.95"/><circle cx="403.6" cy="249.5" r="1.95"/><circle cx="409.0" cy="249" r="1.95"/><circle cx="398.3" cy="254.5" r="1.95"/><circle cx="403.6" cy="255.6" r="1.95"/><circle cx="406.3" cy="259" r="1.95"/><circle cx="398.3" cy="262.4" r="1.95"/><circle cx="398.3" cy="264.5" r="1.95"/><circle cx="403.6" cy="263.4" r="1.95"/><circle cx="409.1" cy="262.6" r="1.95"/><circle cx="403.6" cy="269.3" r="1.95"/><circle cx="403.6" cy="279.1" r="1.95"/><circle cx="436.6" cy="221.2" r="1.95"/><circle cx="431.3" cy="226.6" r="1.95"/><circle cx="434.2" cy="226.6" r="1.95"/><circle cx="439.3" cy="226.6" r="1.95"/><circle cx="442.1" cy="230" r="1.95"/><circle cx="436.6" cy="232" r="1.95"/><circle cx="442.1" cy="237.9" r="1.95"/><circle cx="431.3" cy="239.3" r="1.95"/><circle cx="436.6" cy="241.3" r="1.95"/><circle cx="439.3" cy="242.4" r="1.95"/><circle cx="431.3" cy="244.7" r="1.95"/><circle cx="441.6" cy="245.4" r="1.95"/><circle cx="436.6" cy="247.5" r="1.95"/><circle cx="436.6" cy="253.3" r="1.95"/><circle cx="441.5" cy="263.1" r="1.95"/><circle cx="436.6" cy="265.4" r="1.95"/><circle cx="436.6" cy="271.4" r="1.95"/><circle cx="436.6" cy="297.3" r="1.95"/><circle cx="469.3" cy="221.2" r="1.95"/><circle cx="464" cy="223.1" r="1.95"/><circle cx="474.4" cy="225.1" r="1.95"/><circle cx="469.3" cy="228.4" r="1.95"/><circle cx="464" cy="236.9" r="1.95"/><circle cx="474.4" cy="235.9" r="1.95"/><circle cx="469.3" cy="240.3" r="1.95"/><circle cx="471.8" cy="242.4" r="1.95"/><circle cx="474.4" cy="244.4" r="1.95"/><circle cx="464" cy="243.7" r="1.95"/><circle cx="469.3" cy="247.5" r="1.95"/><circle cx="469.4" cy="253.6" r="1.95"/><circle cx="463.8" cy="260.4" r="1.95"/><circle cx="463.8" cy="264" r="1.95"/><circle cx="469.4" cy="262.7" r="1.95"/><circle cx="474.6" cy="262.7" r="1.95"/><circle cx="469.4" cy="268.8" r="1.95"/><circle cx="463.8" cy="270.3" r="1.95"/><circle cx="474.6" cy="273" r="1.95"/><circle cx="469.4" cy="275.9" r="1.95"/><circle cx="502.1" cy="227.4" r="1.95"/><circle cx="496.7" cy="231.6" r="1.95"/><circle cx="507.5" cy="231.6" r="1.95"/><circle cx="496.7" cy="235.7" r="1.95"/><circle cx="502.1" cy="236.8" r="1.95"/><circle cx="502.1" cy="243.9" r="1.95"/><circle cx="502.1" cy="264.3" r="1.95"/><circle cx="496.7" cy="271.5" r="1.95"/><circle cx="507.5" cy="273" r="1.95"/><circle cx="502.1" cy="275.3" r="1.95"/><circle cx="496.7" cy="279.7" r="1.95"/><circle cx="507.5" cy="278.8" r="1.95"/><circle cx="502.1" cy="283.8" r="1.95"/><circle cx="502.1" cy="290.8" r="1.95"/>
</g>
</svg></body></html>
